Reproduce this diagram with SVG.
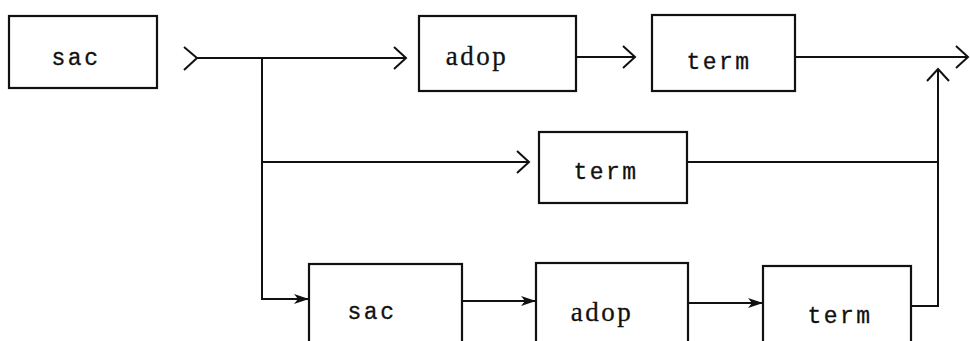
<svg xmlns="http://www.w3.org/2000/svg" width="970" height="341" viewBox="0 0 970 341">
  <style>
    .box { fill: #fff; stroke: #111; stroke-width: 2.2; }
    .lbl { font-family: "Liberation Mono", "DejaVu Sans Mono", monospace; font-size: 23px; fill: #111; text-anchor: middle; letter-spacing: 2.5px; stroke: #111; stroke-width: 0.3; }
    .ser { font-family: "Liberation Serif", "DejaVu Serif", serif; font-size: 27px; letter-spacing: 2.5px; }
    .wire { fill: none; stroke: #111; stroke-width: 2; }
  </style>
  <defs>
    <marker id="chev" markerUnits="userSpaceOnUse" markerWidth="16" markerHeight="26" refX="13" refY="12" orient="auto" overflow="visible">
      <path d="M1,1 L13,12 L1,23" fill="none" stroke="#111" stroke-width="2"/>
    </marker>
    <marker id="solid" markerUnits="userSpaceOnUse" markerWidth="16" markerHeight="10" refX="15" refY="5" orient="auto" overflow="visible">
      <path d="M0,0 L15,5 L0,10 L4,5 Z" fill="#111"/>
    </marker>
  </defs>

  <g id="n-sac-top">
    <rect class="box" x="9" y="16" width="148" height="72"/>
    <text class="lbl" x="76" y="65">sac</text>
  </g>
  <g id="n-adop-top">
    <rect class="box" x="419" y="16" width="157" height="75"/>
    <text class="lbl ser" x="477" y="65">adop</text>
  </g>
  <g id="n-term-top">
    <rect class="box" x="652" y="15" width="143" height="76"/>
    <text class="lbl" x="719" y="69">term</text>
  </g>
  <g id="n-term-mid">
    <rect class="box" x="539" y="132" width="148" height="71"/>
    <text class="lbl" x="606" y="179">term</text>
  </g>
  <g id="n-sac-bot">
    <rect class="box" x="309" y="264" width="153" height="90"/>
    <text class="lbl" x="372" y="319">sac</text>
  </g>
  <g id="n-adop-bot">
    <rect class="box" x="536" y="263" width="152" height="90"/>
    <text class="lbl ser" x="602" y="321">adop</text>
  </g>
  <g id="n-term-bot">
    <rect class="box" x="763" y="266" width="148" height="90"/>
    <text class="lbl" x="840" y="323">term</text>
  </g>

  <g id="connectors">
    <!-- input tail -->
    <path class="wire" d="M184,47 L197,58 L184,70"/>
    <!-- main line to adop -->
    <path class="wire" d="M197,58 L406,58" marker-end="url(#chev)"/>
    <!-- adop to term -->
    <path class="wire" d="M576,57 L635,57" marker-end="url(#chev)"/>
    <!-- term to output -->
    <path class="wire" d="M795,57 L968,57" marker-end="url(#chev)"/>
    <!-- branch down -->
    <path class="wire" d="M262,58 L262,299 L309,299" marker-end="url(#solid)"/>
    <path class="wire" d="M262,162 L529,162" marker-end="url(#chev)"/>
    <!-- bottom chain -->
    <path class="wire" d="M462,301 L536,301" marker-end="url(#solid)"/>
    <path class="wire" d="M688,303 L763,303" marker-end="url(#solid)"/>
    <!-- collectors -->
    <path class="wire" d="M687,162 L938,162"/>
    <path class="wire" d="M911,306 L938,306 L938,69" marker-end="url(#chev)"/>
  </g>
</svg>
